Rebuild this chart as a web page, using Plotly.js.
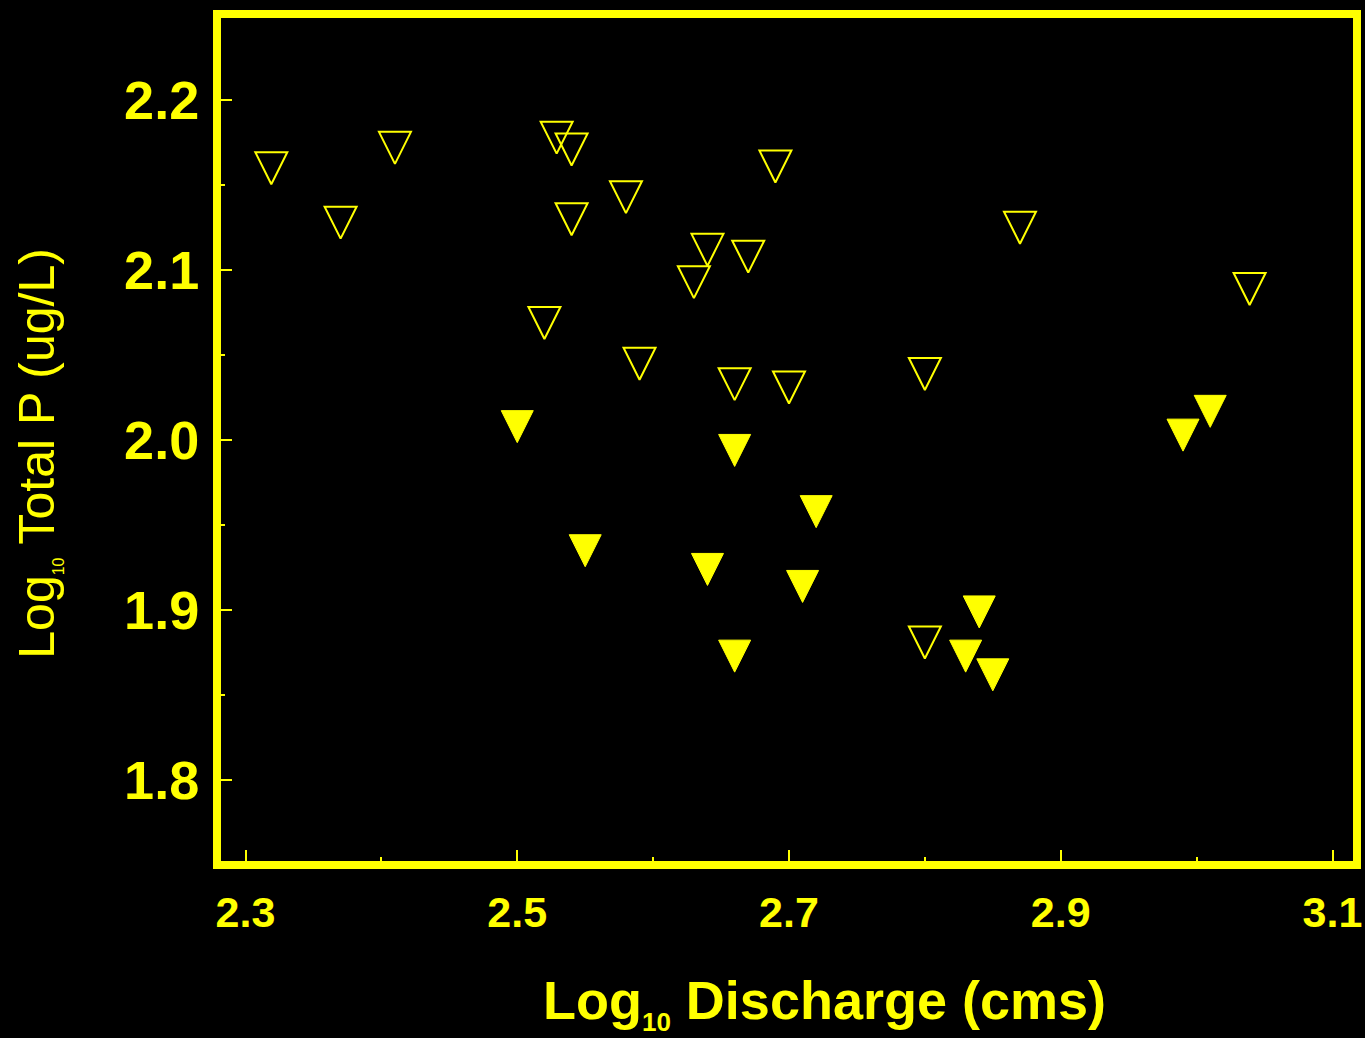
<!DOCTYPE html>
<html>
<head>
<meta charset="utf-8">
<script src="https://cdn.plot.ly/plotly-3.0.1.min.js"></script>
<style>
  html, body { margin: 0; padding: 0; background: #000; }
  #chart { width: 1365px; height: 1038px; }
</style>
</head>
<body>
<div id="chart"></div>
<script>
// Open (hollow) triangles: Log10 discharge (cms) vs Log10 total P (ug/L)
const openDischarge = [2.319, 2.370, 2.410, 2.529, 2.540, 2.540, 2.580, 2.520, 2.690, 2.870,
                       2.640, 2.670, 2.630, 2.590, 2.660, 2.700, 2.800, 2.800, 3.039];
const openTotalP    = [2.163, 2.131, 2.175, 2.181, 2.174, 2.133, 2.146, 2.072, 2.164, 2.128,
                       2.115, 2.111, 2.096, 2.048, 2.036, 2.034, 2.042, 1.884, 2.092];

// Filled triangles
const filledDischarge = [2.500, 2.660, 2.720, 2.550, 2.640, 2.710, 2.660, 2.840, 2.830, 2.850, 2.990, 3.010];
const filledTotalP    = [2.011, 1.997, 1.961, 1.938, 1.927, 1.917, 1.876, 1.902, 1.876, 1.865, 2.006, 2.020];

// Axis ticks
const xTickVals = [2.3, 2.5, 2.7, 2.9, 3.1];
const xTickText = ['2.3', '2.5', '2.7', '2.9', '3.1'];
const yTickVals = [1.8, 1.9, 2.0, 2.1, 2.2];
const yTickText = ['1.8', '1.9', '2.0', '2.1', '2.2'];

const YEL = '#ffff00';
const FONT = 'Liberation Sans, Arial, Helvetica, sans-serif';

const margin = {l: 221, r: 12, t: 18, b: 177};
const plotH = 1038 - margin.t - margin.b;
const xRange = [2.28197, 3.11509];
const yRange = [1.75235, 2.24824];

// marker: downward triangle whose tip sits at the anchor; shift the drawing axis so the
// triangle's centroid lands on the data value
const markerSize = 32;
const tipOffsetPx = markerSize * 2 / 3;
const dShift = tipOffsetPx * (yRange[1] - yRange[0]) / plotH;

const traces = [
  // empty trace that keeps the visible (main) y axis attached to the plot
  {type: 'scatter', mode: 'markers', x: [], y: [], xaxis: 'x', yaxis: 'y', hoverinfo: 'skip', showlegend: false},
  {
    type: 'scatter', mode: 'markers', name: 'open',
    x: openDischarge, y: openTotalP, yaxis: 'y2',
    marker: {symbol: 'arrow-down-open', size: markerSize, color: YEL, line: {color: YEL, width: 2}},
    cliponaxis: false, hoverinfo: 'x+y'
  },
  {
    type: 'scatter', mode: 'markers', name: 'filled',
    x: filledDischarge, y: filledTotalP, yaxis: 'y2',
    marker: {symbol: 'arrow-down', size: markerSize, color: YEL, line: {color: YEL, width: 1}},
    cliponaxis: false, hoverinfo: 'x+y'
  }
];

const layout = {
  width: 1365, height: 1038,
  paper_bgcolor: '#000', plot_bgcolor: '#000',
  margin: margin,
  showlegend: false,
  font: {family: FONT, color: YEL},
  xaxis: {
    range: xRange, showgrid: false, zeroline: false,
    showline: true, mirror: true, linecolor: YEL, linewidth: 8,
    tickmode: 'array', tickvals: xTickVals, ticktext: xTickText,
    ticks: 'inside', ticklen: 11, tickwidth: 2, tickcolor: YEL,
    tickfont: {family: FONT, size: 43, color: YEL, weight: 'bold'},
    ticklabelstandoff: 6,
    minor: {tickmode: 'linear', tick0: 2.3, dtick: 0.1, ticks: 'inside', ticklen: 4, tickwidth: 2, tickcolor: YEL, showgrid: false},
    title: {
      text: '<b>&nbsp;&nbsp;&nbsp;&nbsp;&nbsp;Log<sub><span style="font-size:26px">10</span></sub> Discharge (cms)</b>',
      font: {family: FONT, size: 54, color: YEL},
      standoff: 50
    }
  },
  yaxis: {
    range: yRange, showgrid: false, zeroline: false,
    showline: true, mirror: true, linecolor: YEL, linewidth: 8,
    tickmode: 'array', tickvals: yTickVals, ticktext: yTickText,
    ticks: 'inside', ticklen: 11, tickwidth: 2, tickcolor: YEL,
    tickfont: {family: FONT, size: 54, color: YEL, weight: 'bold'},
    ticklabelstandoff: 3,
    minor: {tickmode: 'linear', tick0: 1.8, dtick: 0.05, ticks: 'inside', ticklen: 4, tickwidth: 2, tickcolor: YEL, showgrid: false},
    title: {
      text: 'Log<sub><span style="font-size:16px">10</span></sub> Total P (ug/L)&nbsp;&nbsp;',
      font: {family: FONT, size: 50, color: YEL},
      standoff: 57
    }
  },
  yaxis2: {
    overlaying: 'y', range: [yRange[0] + dShift, yRange[1] + dShift],
    visible: false, showgrid: false, zeroline: false
  }
};

Plotly.newPlot('chart', traces, layout, {displayModeBar: false, staticPlot: true});
</script>
</body>
</html>
